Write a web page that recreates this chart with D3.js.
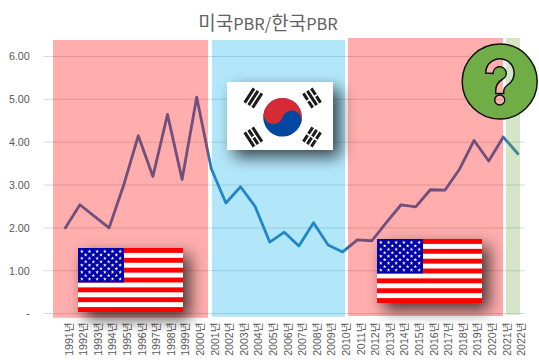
<!DOCTYPE html>
<html><head><meta charset="utf-8">
<script src="https://cdnjs.cloudflare.com/ajax/libs/d3/7.8.5/d3.min.js"></script>
<style>html,body{margin:0;background:#fff}svg{display:block}</style></head>
<body><svg id="c" width="539" height="362"></svg>
<script>
const titleParts = ["미국","PBR/","한국","PBR"];
const years = d3.range(1991, 2023);
const pbr = [2.0,2.54,2.27,2.0,3.0,4.15,3.2,4.65,3.13,5.05,3.38,2.58,2.96,2.5,1.67,1.9,1.58,2.12,1.6,1.44,1.72,1.7,2.13,2.54,2.49,2.89,2.88,3.37,4.04,3.56,4.12,3.73];
const yTicks = [0,1,2,3,4,5,6];
const eraFrom = [1991,2001,2011,2022];
const eraTo = [2000,2010,2021,2022];
const eraFill = ["#ff0000","#00b0f0","#ff0000","#70ad47"];
const eraOpacity = [0.32,0.3,0.32,0.3];
// pixel tweaks per era: [left pad, right pad, top, bottom]
const eraBox = [[12.3,11.3,40,317.7],[-0.7,2.3,40,316.7],[9.3,-0.3,38,316],[11.9,2.1,38,314.7]];
const trigrams = [[1,1,1],[0,1,0],[1,0,1],[0,0,0]];

const svg = d3.select("#c");
const x = d3.scalePoint().domain(years).range([65.3, 517.9]);
const y = d3.scaleLinear().domain([0,6]).range([313.6, 56.5]);
const grey = "#595959";
const latin = "'Liberation Sans','Noto Sans CJK KR',sans-serif";
const cjk = "'Noto Sans CJK KR',sans-serif";

const defs = svg.append("defs");
const f = defs.append("filter").attr("id","sh").attr("x","-40%").attr("y","-50%").attr("width","190%").attr("height","220%");
f.append("feDropShadow").attr("dx",7).attr("dy",7).attr("stdDeviation",8).attr("flood-color","#000").attr("flood-opacity",0.7);

// title
svg.append("text").attr("x",268).attr("y",30).attr("text-anchor","middle")
  .attr("font-family",cjk).attr("fill","#636363")
  .selectAll("tspan").data(titleParts).join("tspan")
  .attr("font-size",(d,i)=>i%2?16.4:19).text(d=>d);

// grid
svg.append("g").selectAll("line").data(yTicks).join("line")
  .attr("x1",43.3).attr("x2",525).attr("y1",d=>y(d)).attr("y2",d=>y(d))
  .attr("stroke","#d9d9d9").attr("stroke-width",1);

// y labels
svg.append("g").selectAll("text").data(yTicks).join("text")
  .attr("x",29.7).attr("y",d=>y(d)+3.8).attr("text-anchor","end")
  .attr("font-family",latin).attr("font-size",10.7).attr("fill",grey)
  .text(d=>d===0?"-":d3.format(".2f")(d));

// x labels
svg.append("g").selectAll("text").data(years).join("text")
  .attr("transform",d=>`translate(${x(d)+7.2},322.5) rotate(-90)`)
  .attr("text-anchor","end").attr("font-family",latin).attr("font-size",10.6).attr("fill",grey)
  .text(d=>d+"년");

// line
svg.append("path").datum(pbr)
  .attr("d",d3.line().x((d,i)=>x(years[i])).y(d=>y(d)))
  .attr("fill","none").attr("stroke","#2e75b6").attr("stroke-width",2.8).attr("stroke-linejoin","round").attr("stroke-linecap","round");

// translucent eras over the chart
svg.append("g").selectAll("rect").data(eraFrom).join("rect")
  .attr("x",(d,i)=>x(d)-eraBox[i][0])
  .attr("width",(d,i)=>x(eraTo[i])+eraBox[i][1]-x(d)+eraBox[i][0])
  .attr("y",(d,i)=>eraBox[i][2])
  .attr("height",(d,i)=>eraBox[i][3]-eraBox[i][2])
  .attr("fill",(d,i)=>eraFill[i]).attr("opacity",(d,i)=>eraOpacity[i]);

// US flag
function usFlag(px,py){
  const w=105,h=64,sh=h/13,cw=46,ch=sh*7;
  const g=svg.append("g").attr("transform",`translate(${px},${py})`).attr("filter","url(#sh)");
  g.append("rect").attr("width",w).attr("height",h).attr("fill","#fff");
  g.selectAll(".s").data(d3.range(0,13,2)).join("rect").attr("class","s")
    .attr("y",d=>d*sh).attr("width",w).attr("height",sh).attr("fill","#ff0000");
  g.append("rect").attr("width",cw).attr("height",ch).attr("fill","#0000a8");
  const stars=[];
  for(let r=0;r<9;r++){const n=r%2?5:6;for(let c=0;c<n;c++)stars.push([(c*2+(r%2?2:1))*cw/12,(r+1)*ch/10]);}
  const sym=d3.symbol().type(d3.symbolStar).size(4.5)();
  g.selectAll("path").data(stars).join("path").attr("d",sym)
    .attr("transform",d=>`translate(${d[0]},${d[1]})`).attr("fill","#fff");
}
// Korean flag
function krFlag(px,py){
  const w=106,h=68,r=19.3;
  const g=svg.append("g").attr("transform",`translate(${px},${py})`).attr("filter","url(#sh)");
  g.append("rect").attr("width",w).attr("height",h).attr("fill","#fff");
  const t=g.append("g").attr("transform",`translate(${w/2+2.5},${h/2+1.3}) rotate(18)`);
  t.append("circle").attr("r",r).attr("fill","#0047a0");
  t.append("path").attr("d",d3.arc()({innerRadius:0,outerRadius:r,startAngle:-Math.PI/2,endAngle:Math.PI/2})).attr("fill","#d62b35");
  t.append("circle").attr("cx",-r/2).attr("r",r/2).attr("fill","#d62b35");
  t.append("circle").attr("cx",r/2).attr("r",r/2).attr("fill","#0047a0");
  const pos=[[26.3,16,-57],[85,16,57],[26.3,55,57],[85,55,-57]];
  const len=17,th=3,gap=1.7;
  trigrams.forEach((tg,i)=>{
    const b=g.append("g").attr("transform",`translate(${pos[i][0]},${pos[i][1]}) rotate(${pos[i][2]})`);
    tg.forEach((solid,k)=>{
      const yy=(k-1)*(th+gap)-th/2;
      if(solid) b.append("rect").attr("x",-len/2).attr("y",yy).attr("width",len).attr("height",th).attr("fill","#1a1a1a");
      else [-1,1].forEach(sd=>b.append("rect").attr("x",sd<0?-len/2:0.8).attr("y",yy).attr("width",len/2-0.8).attr("height",th).attr("fill","#1a1a1a"));
    });
  });
}
krFlag(227,82);
usFlag(78,248);
usFlag(377,239);

// question badge with cut-out mark
const cx=499.7, cy=81.5, R=37.5;
const ring=`M${cx-R},${cy}A${R},${R} 0 1 1 ${cx+R},${cy}A${R},${R} 0 1 1 ${cx-R},${cy}Z`;
const q=`M${cx-14},${cy-8.5}A14.2,14.2 0 1 1 ${cx+8.5},${cy+3}Q${cx+4},${cy+6} ${cx+4},${cy+10}L${cx+4},${cy+12}L${cx-4},${cy+12}L${cx-4},${cy+9}Q${cx-4},${cy+2} ${cx+3},${cy-2.5}A6.5,6.5 0 1 0 ${cx-6.5},${cy-8}Z`;
const dot=`M${cx-5},${cy+18.5}A5,5 0 1 1 ${cx+5},${cy+18.5}A5,5 0 1 1 ${cx-5},${cy+18.5}Z`;
svg.append("path").attr("d",ring+q+dot).attr("fill-rule","evenodd")
  .attr("fill","#70ad47").attr("stroke","#111").attr("stroke-width",1.5);
</script></body></html>
